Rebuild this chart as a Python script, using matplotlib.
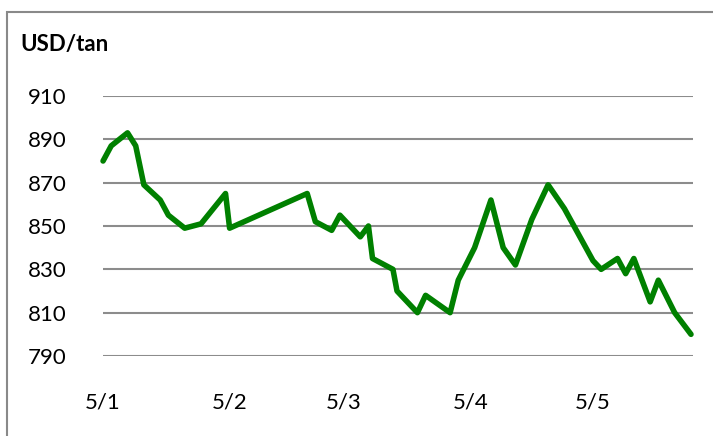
import pandas as pd
import matplotlib.pyplot as plt
from matplotlib.patches import Rectangle

# Price data (USD/tan)
dates = ["2005-01-01", "2005-01-03", "2005-01-07", "2005-01-09", "2005-01-11",
         "2005-01-15", "2005-01-17", "2005-01-21", "2005-01-25", "2005-01-31",
         "2005-02-01", "2005-02-20", "2005-02-22", "2005-02-26", "2005-02-28",
         "2005-03-05", "2005-03-07", "2005-03-08", "2005-03-13", "2005-03-14",
         "2005-03-19", "2005-03-21", "2005-03-27", "2005-03-29", "2005-04-02",
         "2005-04-06", "2005-04-09", "2005-04-12", "2005-04-16", "2005-04-20",
         "2005-04-24", "2005-05-01", "2005-05-03", "2005-05-07", "2005-05-09",
         "2005-05-11", "2005-05-15", "2005-05-17", "2005-05-21", "2005-05-25"]
prices = [880, 887, 893, 887, 869,
          862, 855, 849, 851, 865,
          849, 865, 852, 848, 855,
          845, 850, 835, 830, 820,
          810, 818, 810, 825, 840,
          862, 840, 832, 853, 869,
          858, 834, 830, 835, 828,
          835, 815, 825, 810, 800]

tick_dates = ["2005-01-01", "2005-02-01", "2005-03-01", "2005-04-01", "2005-05-01"]
tick_labels = ["5/1", "5/2", "5/3", "5/4", "5/5"]
y_ticks = [790, 810, 830, 850, 870, 890, 910]

df = pd.DataFrame({"date": pd.to_datetime(dates), "price": prices})

plt.rcParams["font.family"] = ["Lato", "DejaVu Sans"]

fig = plt.figure(figsize=(7.13, 4.36), dpi=100)
ax = fig.add_axes([102.7 / 713, 1 - 356 / 436, 590 / 713, 260 / 436])

# Chart frame (cropped at right and bottom)
fig.patches.append(Rectangle((7 / 713, -0.1), 1.2, 1 - 12 / 436 + 0.1,
                             transform=fig.transFigure, fill=False,
                             edgecolor="#898989", linewidth=1.5))

for y in y_ticks:
    ax.axhline(y, color="#8c8c8c", linewidth=1.5, zorder=1)

ax.plot(df["date"], df["price"], color="#008000", linewidth=4,
        solid_joinstyle="round", solid_capstyle="round", zorder=3,
        clip_on=False)

ax.set_ylim(790, 910)
ax.set_yticks(y_ticks)
ax.set_xlim(pd.Timestamp("2005-01-01") - pd.Timedelta(hours=2),
            pd.Timestamp("2005-05-25") + pd.Timedelta(hours=10))
ax.set_xticks(pd.to_datetime(tick_dates))
ax.set_xticklabels(tick_labels)

for s in ax.spines.values():
    s.set_visible(False)
ax.tick_params(length=0, labelsize=16, colors="black")
ax.tick_params(axis="y", pad=26)
ax.tick_params(axis="x", pad=26)

fig.text(20 / 713, 1 - 45 / 436, "USD/tan", fontsize=16, fontweight="bold",
         va="center", ha="left")

fig.savefig("out.png", dpi=100)
